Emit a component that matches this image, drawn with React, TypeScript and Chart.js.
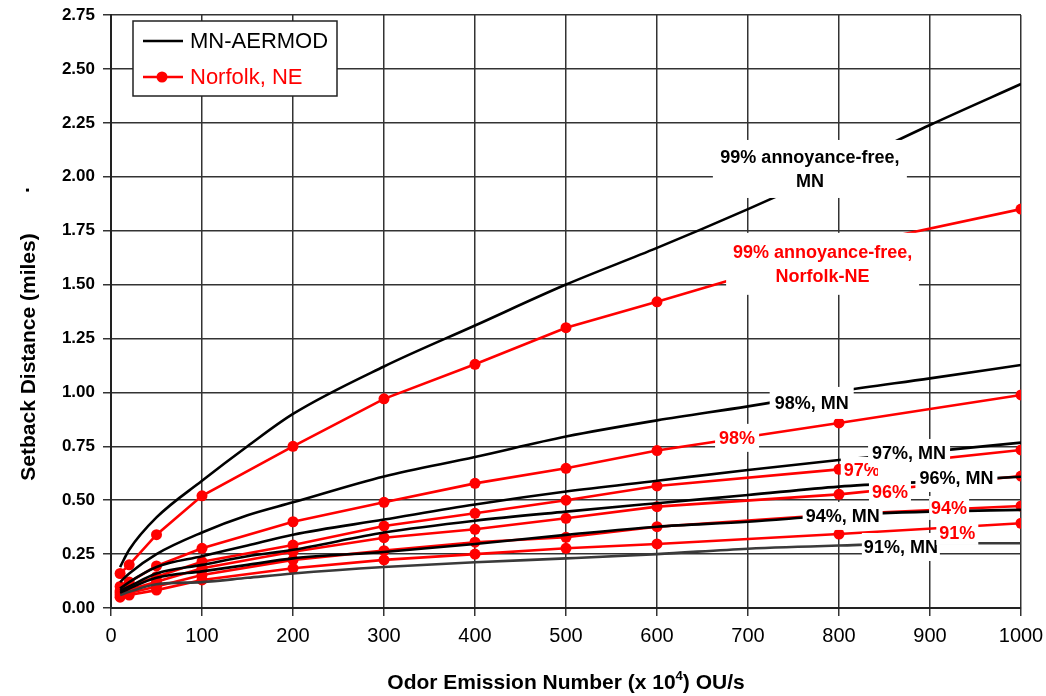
import React, { useEffect, useRef } from 'react';
import { Chart, registerables } from 'chart.js';

Chart.register(...registerables);

const FONT = '"Liberation Sans", Arial, Helvetica, sans-serif';

// MN-AERMOD curves (no markers)
const mnX = [10, 20, 50, 100, 150, 200, 300, 400, 500, 600, 700, 800, 900, 1000];
const mn99 = [0.19, 0.27, 0.42, 0.59, 0.75, 0.9, 1.12, 1.31, 1.5, 1.67, 1.85, 2.04, 2.24, 2.43];
const mn98 = [0.12, 0.16, 0.25, 0.35, 0.43, 0.49, 0.61, 0.7, 0.795, 0.87, 0.935, 1.005, 1.065, 1.127];
const mn97 = [0.09, 0.12, 0.19, 0.24, 0.29, 0.34, 0.41, 0.48, 0.54, 0.59, 0.64, 0.686, 0.725, 0.767];
const mn96 = [0.08, 0.1, 0.16, 0.2, 0.24, 0.27, 0.35, 0.405, 0.447, 0.486, 0.524, 0.563, 0.586, 0.609];
const mn94 = [0.07, 0.09, 0.14, 0.17, 0.2, 0.23, 0.26, 0.297, 0.339, 0.377, 0.4, 0.431, 0.447, 0.455];
const mn91 = [0.06, 0.075, 0.11, 0.12, 0.14, 0.16, 0.19, 0.212, 0.23, 0.25, 0.275, 0.29, 0.3, 0.3];

// Norfolk, NE curves (with markers)
const neX = [10, 20, 50, 100, 200, 300, 400, 500, 600, 800, 1000];
const ne99 = [0.16, 0.2, 0.34, 0.52, 0.75, 0.97, 1.13, 1.3, 1.42, 1.67, 1.85];
const ne98 = [0.1, 0.12, 0.195, 0.277, 0.4, 0.49, 0.578, 0.648, 0.73, 0.858, 0.988];
const ne97 = [0.08, 0.1, 0.145, 0.215, 0.292, 0.38, 0.439, 0.5, 0.566, 0.643, 0.733];
const ne96 = [0.07, 0.085, 0.122, 0.184, 0.261, 0.326, 0.365, 0.416, 0.47, 0.527, 0.612];
const ne94 = [0.06, 0.07, 0.1, 0.153, 0.223, 0.266, 0.305, 0.328, 0.377, 0.435, 0.473];
const ne91 = [0.05, 0.06, 0.083, 0.13, 0.184, 0.223, 0.25, 0.277, 0.297, 0.343, 0.393];

const xTicks = [0, 100, 200, 300, 400, 500, 600, 700, 800, 900, 1000];
const yTicks = [0, 0.25, 0.5, 0.75, 1, 1.25, 1.5, 1.75, 2, 2.25, 2.5, 2.75];

const legendNames = ['MN-AERMOD', 'Norfolk, NE'];

// curve annotations: text lines, anchor in data units, box size
const labels = [
  { lines: ['99% annoyance-free,', 'MN'], x: 768, y: 2.036, w: 194, h: 58, color: '#000000' },
  { lines: ['99% annoyance-free,', 'Norfolk-NE'], x: 782, y: 1.596, w: 193, h: 62, color: '#ff0000' },
  { lines: ['98%, MN'], x: 770, y: 0.951, w: 84, h: 32, color: '#000000' },
  { lines: ['98%'], x: 688, y: 0.789, w: 44, h: 28, color: '#ff0000' },
  { lines: ['97%'], x: 825, y: 0.64, w: 42, h: 26, color: '#ff0000', clipRight: 878 },
  { lines: ['97%, MN'], x: 877, y: 0.719, w: 82, h: 28, color: '#000000' },
  { lines: ['96%, MN'], x: 929, y: 0.603, w: 82, h: 28, color: '#000000' },
  { lines: ['96%'], x: 856, y: 0.538, w: 42, h: 26, color: '#ff0000' },
  { lines: ['94%, MN'], x: 804, y: 0.427, w: 80, h: 28, color: '#000000' },
  { lines: ['94%'], x: 921, y: 0.464, w: 40, h: 24, color: '#ff0000' },
  { lines: ['91%, MN'], x: 868, y: 0.283, w: 78, h: 28, color: '#000000' },
  { lines: ['91%'], x: 930, y: 0.348, w: 42, h: 24, color: '#ff0000' },
];

const pts = (xs: number[], ys: number[]) => xs.map((x, i) => ({ x, y: ys[i] }));

const mnSet = (ys: number[], color = '#000000') => ({
  data: pts(mnX, ys),
  borderColor: color,
  backgroundColor: color,
  borderWidth: 2.6,
  pointRadius: 0,
  cubicInterpolationMode: 'monotone' as const,
});
const neSet = (ys: number[]) => ({
  data: pts(neX, ys),
  borderColor: '#ff0000',
  backgroundColor: '#ff0000',
  borderWidth: 2.6,
  pointRadius: 5.5,
  pointBorderWidth: 0,
  tension: 0,
});

const annotationPlugin = {
  id: 'curveLabels',
  afterDatasetsDraw(chart: any) {
    const { ctx, scales } = chart;
    ctx.save();
    ctx.font = `bold 18px ${FONT}`;
    ctx.textAlign = 'center';
    ctx.textBaseline = 'middle';
    for (const l of labels) {
      const cx = scales.x.getPixelForValue(l.x);
      const cy = scales.y.getPixelForValue(l.y);
      ctx.fillStyle = '#ffffff';
      ctx.fillRect(cx - l.w / 2, cy - l.h / 2, l.w, l.h);
      ctx.save();
      if (l.clipRight) {
        ctx.beginPath();
        ctx.rect(cx - l.w, cy - l.h, l.clipRight - (cx - l.w), l.h * 2);
        ctx.clip();
      }
      ctx.fillStyle = l.color;
      const lh = 24;
      const y0 = cy - ((l.lines.length - 1) * lh) / 2;
      l.lines.forEach((t, i) => ctx.fillText(t, cx, y0 + i * lh + 1));
      ctx.restore();
    }
    ctx.restore();
  },
};

const legendPlugin = {
  id: 'boxLegend',
  afterDraw(chart: any) {
    const { ctx, chartArea } = chart;
    const x = chartArea.left + 22;
    const y = chartArea.top + 6;
    const w = 204;
    const h = 75;
    ctx.save();
    ctx.fillStyle = '#ffffff';
    ctx.fillRect(x, y, w, h);
    ctx.strokeStyle = '#222222';
    ctx.lineWidth = 1.5;
    ctx.strokeRect(x, y, w, h);
    ctx.font = `22px ${FONT}`;
    ctx.textBaseline = 'middle';
    ctx.textAlign = 'left';
    ctx.strokeStyle = '#000000';
    ctx.lineWidth = 2.6;
    ctx.beginPath();
    ctx.moveTo(x + 10, y + 20);
    ctx.lineTo(x + 50, y + 20);
    ctx.stroke();
    ctx.fillStyle = '#000000';
    ctx.fillText(legendNames[0], x + 57, y + 21);
    ctx.strokeStyle = '#ff0000';
    ctx.beginPath();
    ctx.moveTo(x + 10, y + 56);
    ctx.lineTo(x + 50, y + 56);
    ctx.stroke();
    ctx.fillStyle = '#ff0000';
    ctx.beginPath();
    ctx.arc(x + 29, y + 56, 5.5, 0, Math.PI * 2);
    ctx.fill();
    ctx.fillText(legendNames[1], x + 57, y + 57);
    ctx.restore();
  },
};

const titlePlugin = {
  id: 'axisTitles',
  afterDraw(chart: any) {
    const { ctx, chartArea } = chart;
    ctx.save();
    ctx.fillStyle = '#000000';
    const big = `bold 21px ${FONT}`;
    const small = `bold 13px ${FONT}`;
    const a = 'Odor Emission Number (x 10';
    const s = '4';
    const b = ') OU/s';
    ctx.font = big;
    const wa = ctx.measureText(a).width;
    const wb = ctx.measureText(b).width;
    ctx.font = small;
    const ws = ctx.measureText(s).width;
    const total = wa + ws + wb;
    const cx = (chartArea.left + chartArea.right) / 2;
    let px = cx - total / 2;
    const base = 689;
    ctx.textBaseline = 'alphabetic';
    ctx.textAlign = 'left';
    ctx.font = big;
    ctx.fillText(a, px, base);
    px += wa;
    ctx.font = small;
    ctx.fillText(s, px, base - 9);
    px += ws;
    ctx.font = big;
    ctx.fillText(b, px, base);
    ctx.translate(29, 357);
    ctx.rotate(-Math.PI / 2);
    ctx.font = big;
    ctx.textAlign = 'center';
    ctx.textBaseline = 'middle';
    ctx.fillText('Setback Distance (miles)', 0, 0);
    ctx.fillText('.', 167, -6);
    ctx.restore();
  },
};

export default function App() {
  const ref = useRef<HTMLCanvasElement>(null);
  useEffect(() => {
    const canvas = ref.current;
    if (!canvas) return;
    const gridColor = '#333333';
    const chart = new Chart(canvas, {
      type: 'line',
      data: {
        datasets: [
          mnSet(mn99), mnSet(mn98), mnSet(mn97), mnSet(mn96), mnSet(mn94), mnSet(mn91, '#3a3a3a'),
          neSet(ne99), neSet(ne98), neSet(ne97), neSet(ne96), neSet(ne94), neSet(ne91),
        ] as any,
      },
      options: {
        animation: false,
        responsive: false,
        devicePixelRatio: 1,
        layout: { padding: { left: 0, right: 25, top: 15, bottom: 0 } },
        plugins: { legend: { display: false }, tooltip: { enabled: false } },
        scales: {
          x: {
            type: 'linear',
            min: 0,
            max: 1000,
            afterBuildTicks: (s: any) => { s.ticks = xTicks.map((v) => ({ value: v })); },
            afterFit: (s: any) => {
              s.height = 88;
              s.paddingLeft = 0;
              s.paddingRight = 0;
            },
            ticks: {
              color: '#000000',
              font: { family: FONT, size: 20 },
              padding: 8,
              maxRotation: 0,
              callback: (v: any) => String(v),
            },
            grid: { color: gridColor, lineWidth: 1.5, tickLength: 8 },
            border: { color: '#222222', width: 2 },
          },
          y: {
            type: 'linear',
            min: 0,
            max: 2.75,
            afterBuildTicks: (s: any) => { s.ticks = yTicks.map((v) => ({ value: v })); },
            afterFit: (s: any) => {
              s.width = 111;
              s.paddingTop = 0;
              s.paddingBottom = 0;
            },
            ticks: {
              color: '#000000',
              font: { family: FONT, size: 17, weight: 'bold' },
              padding: 8,
              callback: (v: any) => Number(v).toFixed(2),
            },
            grid: { color: gridColor, lineWidth: 1.5, tickLength: 8 },
            border: { color: '#222222', width: 2 },
          },
        },
      } as any,
      plugins: [annotationPlugin, legendPlugin, titlePlugin],
    });
    return () => chart.destroy();
  }, []);
  return (
    <div style={{ position: 'fixed', left: 0, top: 0, width: 1046, height: 696, background: '#ffffff' }}>
      <canvas ref={ref} width={1046} height={696} style={{ display: 'block' }} />
    </div>
  );
}
